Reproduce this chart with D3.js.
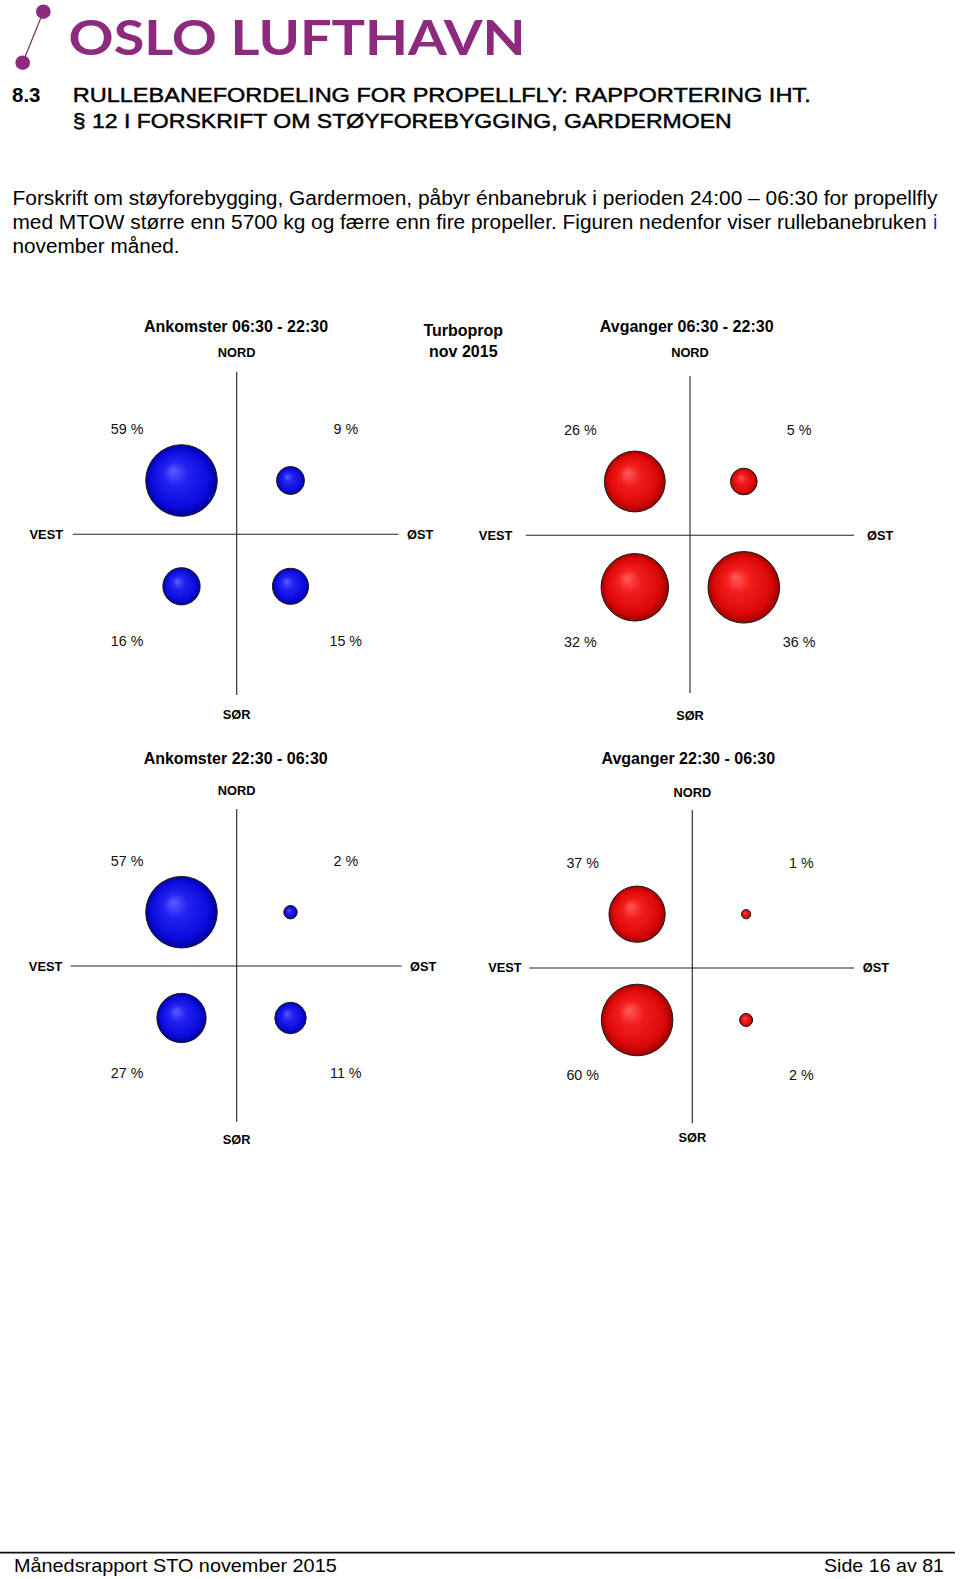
<!DOCTYPE html>
<html>
<head>
<meta charset="utf-8">
<script src="https://cdn.jsdelivr.net/npm/d3@7"></script>
<style>
  body { margin: 0; background: #fff; }
  #page { width: 960px; height: 1579px; }
  text { font-family: "Liberation Sans", Arial, sans-serif; }
</style>
</head>
<body>
<div id="page"></div>
<script>
/*global d3*/

// data (turboprop, nov 2015)
const panelTitles = ['Ankomster 06:30 - 22:30', 'Avganger 06:30 - 22:30', 'Ankomster 22:30 - 06:30', 'Avganger 22:30 - 06:30'];
const cols = ['VEST', 'ØST'];
const rows = ['NORD', 'SØR'];
// order: nord-vest, nord-øst, sør-vest, sør-øst
const arrDay = [59, 9, 16, 15];
const depDay = [26, 5, 32, 36];
const arrNight = [57, 2, 27, 11];
const depNight = [37, 1, 60, 2];
const panelKind = ['arr', 'dep', 'arr', 'dep'];

const bodyLines = [
    'Forskrift om støyforebygging, Gardermoen, påbyr énbanebruk i perioden 24:00 – 06:30 for propellfly',
    'med MTOW større enn 5700 kg og færre enn fire propeller. Figuren nedenfor viser rullebanebruken',
    'november måned.'
];

// where each cross sits on the page
const layout = [
    {cx: 236.7, cy: 534.3, top: 371.7, bottom: 695, left: 72.7, right: 398.3, titleX: 236, titleY: 332, nordY: 357.3, sorY: 719, vestX: 63, ostX: 407, ewY: 539.3},
    {cx: 690, cy: 535.3, top: 376, bottom: 693, left: 525.7, right: 854, titleX: 686.7, titleY: 332, nordY: 356.7, sorY: 720, vestX: 512.3, ostX: 867, ewY: 540},
    {cx: 236.7, cy: 966, top: 809, bottom: 1121.7, left: 70.7, right: 401.7, titleX: 235.7, titleY: 764, nordY: 795, sorY: 1144, vestX: 62.3, ostX: 410, ewY: 970.7},
    {cx: 692.3, cy: 968, top: 810, bottom: 1123.3, left: 529.3, right: 854, titleX: 688.3, titleY: 764, nordY: 796.7, sorY: 1141.7, vestX: 521.7, ostX: 862.7, ewY: 972.3}
];

class RunwayPage {
    constructor(id, panels) {
        this.id = id;
        this.panels = panels;
        this.init();
    }

    init() {
        this.initSvg();
        this.initGradients();
        this.drawHeader();
        this.panels.forEach((p, i) => this.drawPanel(p, layout[i]));
        this.drawCenterLabel();
        this.drawFooter();
    }

    initSvg() {
        const div = d3.select(`#${this.id}`);
        div.selectAll("*").remove();
        this.svg = div.append("svg").attr("width", 960).attr("height", 1579);
    }

    initGradients() {
        const defs = this.svg.append("defs");
        const balls = [
            {id: 'arr', stops: ['#5c5cff', '#2121f2', '#0b0bdc', '#00009c']},
            {id: 'dep', stops: ['#ff5a5a', '#f21c1c', '#dc0808', '#9c0000']}
        ];
        balls.forEach(b => {
            const g = defs.append("radialGradient")
                .attr("id", `ball-${b.id}`)
                .attr("cx", "50%").attr("cy", "50%").attr("r", "50%")
                .attr("fx", "38%").attr("fy", "36%");
            [0, 0.35, 0.8, 1].forEach((o, k) => {
                g.append("stop").attr("offset", o).attr("stop-color", b.stops[k]);
            });
        });
    }

    drawHeader() {
        const purple = '#8c2b7d';
        // logo mark
        this.svg.append("line")
            .attr("x1", 22.7).attr("y1", 62.7).attr("x2", 43.3).attr("y2", 11.7)
            .attr("stroke", '#7d3a6e').attr("stroke-width", 1.3);
        this.svg.selectAll("circle.logo")
            .data([[43.3, 11.7], [22.7, 62.7]])
            .join("circle")
            .attr("class", "logo")
            .attr("cx", d => d[0]).attr("cy", d => d[1]).attr("r", 7.3)
            .attr("fill", purple);
        this.svg.append("text")
            .attr("x", 68.5).attr("y", 55)
            .attr("textLength", 457).attr("lengthAdjust", "spacingAndGlyphs")
            .style("font-family", "Lato, 'Open Sans', sans-serif")
            .style("font-weight", 700).style("font-size", "48px")
            .attr("fill", purple)
            .text('OSLO LUFTHAVN');

        // section heading
        const h = this.svg.append("g").style("font-size", "20.5px")
            .attr("stroke", "#000").attr("stroke-width", 0.45);
        h.append("text").attr("x", 12).attr("y", 101.7).style("font-weight", 700).attr("stroke-width", 0).text('8.3');
        h.append("text").attr("x", 72.7).attr("y", 101.7)
            .attr("textLength", 738).attr("lengthAdjust", "spacingAndGlyphs")
            .text('RULLEBANEFORDELING FOR PROPELLFLY: RAPPORTERING IHT.');
        h.append("text").attr("x", 72.7).attr("y", 128.3)
            .attr("textLength", 659).attr("lengthAdjust", "spacingAndGlyphs")
            .text('§ 12 I FORSKRIFT OM STØYFOREBYGGING, GARDERMOEN');

        // body text
        const widths = [925, 914, 167];
        this.svg.selectAll("text.body")
            .data(bodyLines)
            .join("text")
            .attr("class", "body")
            .attr("x", 12.5)
            .attr("y", (d, i) => 205 + i * 24)
            .attr("textLength", (d, i) => widths[i])
            .attr("lengthAdjust", "spacingAndGlyphs")
            .style("font-size", "19.6px")
            .text(d => d);
        this.svg.append("text")
            .attr("x", 933).attr("y", 229)
            .style("font-size", "19.6px")
            .attr("fill", '#1a1acc')
            .text('i');
    }

    drawPanel(p, L) {
        const g = this.svg.append("g");
        const data = p.values.map((v, i) => ({
            value: v,
            col: cols[i % 2],
            row: rows[Math.floor(i / 2)]
        }));

        const x = d3.scalePoint().domain(cols).range([L.cx - 55.2, L.cx + 53.8]);
        const y = d3.scalePoint().domain(rows).range([L.cy - 53.8, L.cy + 52]);
        const xLab = d3.scalePoint().domain(cols).range([L.cx - 109.6, L.cx + 109.1]);
        const yLab = d3.scalePoint().domain(rows).range([L.cy - 100.5, L.cy + 111.5]);
        const r = d3.scaleSqrt().domain([0, d3.max(p.values)]).range([0, 35.8]);

        // cross
        g.append("line")
            .attr("x1", L.cx).attr("x2", L.cx).attr("y1", L.top).attr("y2", L.bottom)
            .attr("stroke", '#222').attr("stroke-width", 1.1);
        g.append("line")
            .attr("x1", L.left).attr("x2", L.right).attr("y1", L.cy).attr("y2", L.cy)
            .attr("stroke", '#222').attr("stroke-width", 1.1);

        // titles and compass points
        g.append("text")
            .attr("x", L.titleX).attr("y", L.titleY)
            .attr("text-anchor", "middle")
            .style("font-weight", 700).style("font-size", "16px")
            .text(p.title);
        const compass = [
            {t: 'NORD', x: L.cx, y: L.nordY, a: 'middle'},
            {t: 'SØR', x: L.cx, y: L.sorY, a: 'middle'},
            {t: 'VEST', x: L.vestX, y: L.ewY, a: 'end'},
            {t: 'ØST', x: L.ostX, y: L.ewY, a: 'start'}
        ];
        g.selectAll("text.compass")
            .data(compass)
            .join("text")
            .attr("class", "compass")
            .attr("x", d => d.x).attr("y", d => d.y)
            .attr("text-anchor", d => d.a)
            .style("font-weight", 700).style("font-size", "12.8px")
            .text(d => d.t);

        // bubbles
        g.selectAll("circle")
            .data(data)
            .join("circle")
            .attr("cx", d => x(d.col))
            .attr("cy", d => y(d.row))
            .attr("r", d => r(d.value))
            .attr("fill", `url(#ball-${p.kind})`)
            .attr("stroke", '#1a1a1a')
            .attr("stroke-width", 1);

        g.selectAll("text.pct")
            .data(data)
            .join("text")
            .attr("class", "pct")
            .attr("x", d => xLab(d.col))
            .attr("y", d => yLab(d.row))
            .attr("text-anchor", "middle")
            .style("font-size", "14.3px")
            .attr("fill", '#111')
            .text(d => `${d.value} %`);
    }

    drawCenterLabel() {
        const g = this.svg.append("g")
            .attr("text-anchor", "middle")
            .style("font-weight", 700).style("font-size", "16px");
        g.append("text").attr("x", 463.3).attr("y", 335.5).text('Turboprop');
        g.append("text").attr("x", 463.3).attr("y", 356.7).text('nov 2015');
    }

    drawFooter() {
        this.svg.append("line")
            .attr("x1", 0).attr("x2", 955).attr("y1", 1552.7).attr("y2", 1552.7)
            .attr("stroke", '#111').attr("stroke-width", 1.8);
        this.svg.append("text")
            .attr("x", 14).attr("y", 1571.7)
            .attr("textLength", 322.7).attr("lengthAdjust", "spacingAndGlyphs")
            .style("font-size", "18.6px")
            .text('Månedsrapport STO november 2015');
        this.svg.append("text")
            .attr("x", 824).attr("y", 1571.7)
            .attr("textLength", 120).attr("lengthAdjust", "spacingAndGlyphs")
            .style("font-size", "18.6px")
            .text('Side 16 av 81');
    }
}

const panels = [arrDay, depDay, arrNight, depNight].map((values, i) => ({
    title: panelTitles[i],
    kind: panelKind[i],
    values: values
}));

new RunwayPage('page', panels);
</script>
</body>
</html>
